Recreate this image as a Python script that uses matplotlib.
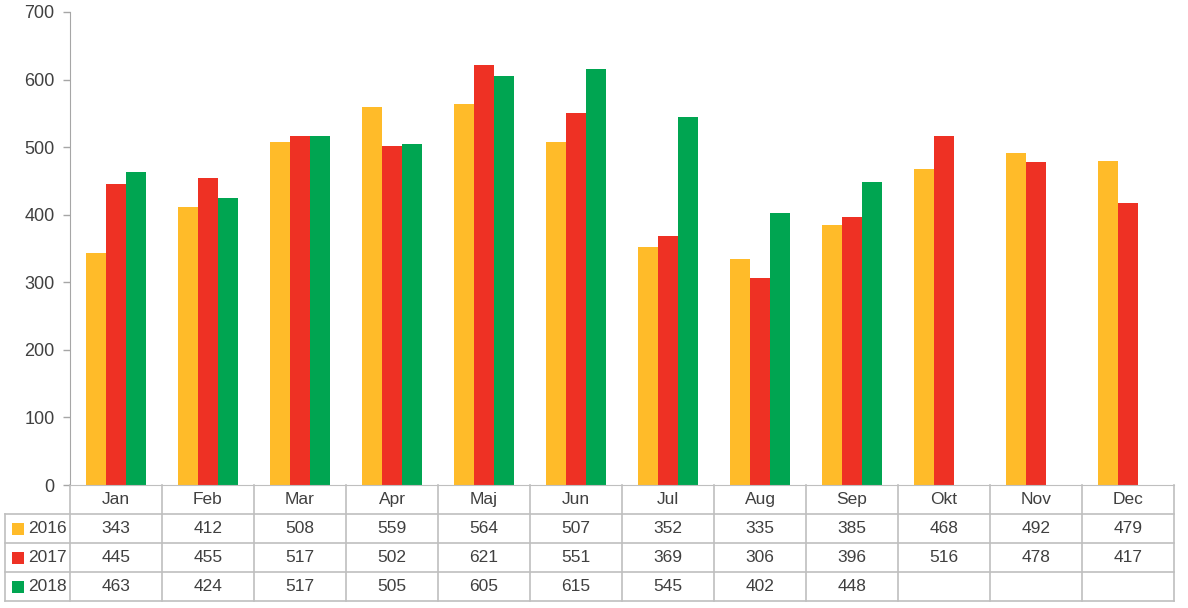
import matplotlib.pyplot as plt
import numpy as np

plt.rcParams['font.family'] = ['Liberation Sans', 'DejaVu Sans']

# data
months = ['Jan', 'Feb', 'Mar', 'Apr', 'Maj', 'Jun', 'Jul', 'Aug', 'Sep', 'Okt', 'Nov', 'Dec']
years = ['2016', '2017', '2018']
v2016 = [343, 412, 508, 559, 564, 507, 352, 335, 385, 468, 492, 479]
v2017 = [445, 455, 517, 502, 621, 551, 369, 306, 396, 516, 478, 417]
v2018 = [463, 424, 517, 505, 605, 615, 545, 402, 448, None, None, None]
series = [v2016, v2017, v2018]
colors = ['#FFBB29', '#EE3124', '#00A551']

W, H = 1188, 608
fig = plt.figure(figsize=(W / 100, H / 100), dpi=100)
x0, x1, ytop, ybot = 70, 1174, 12, 485
ax = fig.add_axes([x0 / W, 1 - ybot / H, (x1 - x0) / W, (ybot - ytop) / H])

n = len(months)
x = np.arange(n)
bw = 0.22
for i, (vals, c) in enumerate(zip(series, colors)):
    xs = [xi + (i - 1) * bw for xi, v in zip(x, vals) if v is not None]
    hs = [v for v in vals if v is not None]
    ax.bar(xs, hs, width=bw, color=c, zorder=2)

ax.set_xlim(-0.5, n - 0.5)
ax.set_ylim(0, 700)
ax.set_yticks(range(0, 701, 100))
ax.set_xticks([])
grey = '#A6A6A6'
for s in ['top', 'right']:
    ax.spines[s].set_visible(False)
ax.spines['left'].set_color(grey)
ax.spines['bottom'].set_color('#BFBFBF')
ax.tick_params(axis='y', colors=grey, length=5, width=1, labelcolor='#404040', labelsize=13, pad=6)

# data table below the axes (in axes coords)
def px(p):
    return (p - x0) / (x1 - x0)

row_h = 29 / (ybot - ytop)
col_w = 1.0 / n
lc = '#BFBFBF'
left = px(5)
tfs = 12.5
tc = '#404040'
# header row
for j, m in enumerate(months):
    ax.text((j + 0.5) * col_w, -0.5 * row_h, m, ha='center', va='center',
            fontsize=tfs, color=tc, transform=ax.transAxes, clip_on=False)
# grid lines
for j in range(n + 1):
    ax.plot([j * col_w] * 2, [0, -4 * row_h], color=lc, lw=1.2,
            transform=ax.transAxes, clip_on=False)
ax.plot([left] * 2, [-row_h, -4 * row_h], color=lc, lw=1.2,
        transform=ax.transAxes, clip_on=False)
for r in range(1, 5):
    ax.plot([left, 1], [-r * row_h] * 2, color=lc, lw=1.2,
            transform=ax.transAxes, clip_on=False)
# series rows
for r, (yr, vals, c) in enumerate(zip(years, series, colors)):
    yc = -(r + 1.5) * row_h
    ax.scatter([px(17.5)], [yc], marker='s', s=75, color=c, linewidths=0,
               transform=ax.transAxes, clip_on=False)
    ax.text(px(28), yc, yr, ha='left', va='center', fontsize=tfs, color=tc,
            transform=ax.transAxes, clip_on=False)
    for j, v in enumerate(vals):
        if v is not None:
            ax.text((j + 0.5) * col_w, yc, str(v), ha='center', va='center',
                    fontsize=tfs, color=tc, transform=ax.transAxes, clip_on=False)

fig.savefig('out.png', dpi=100)
